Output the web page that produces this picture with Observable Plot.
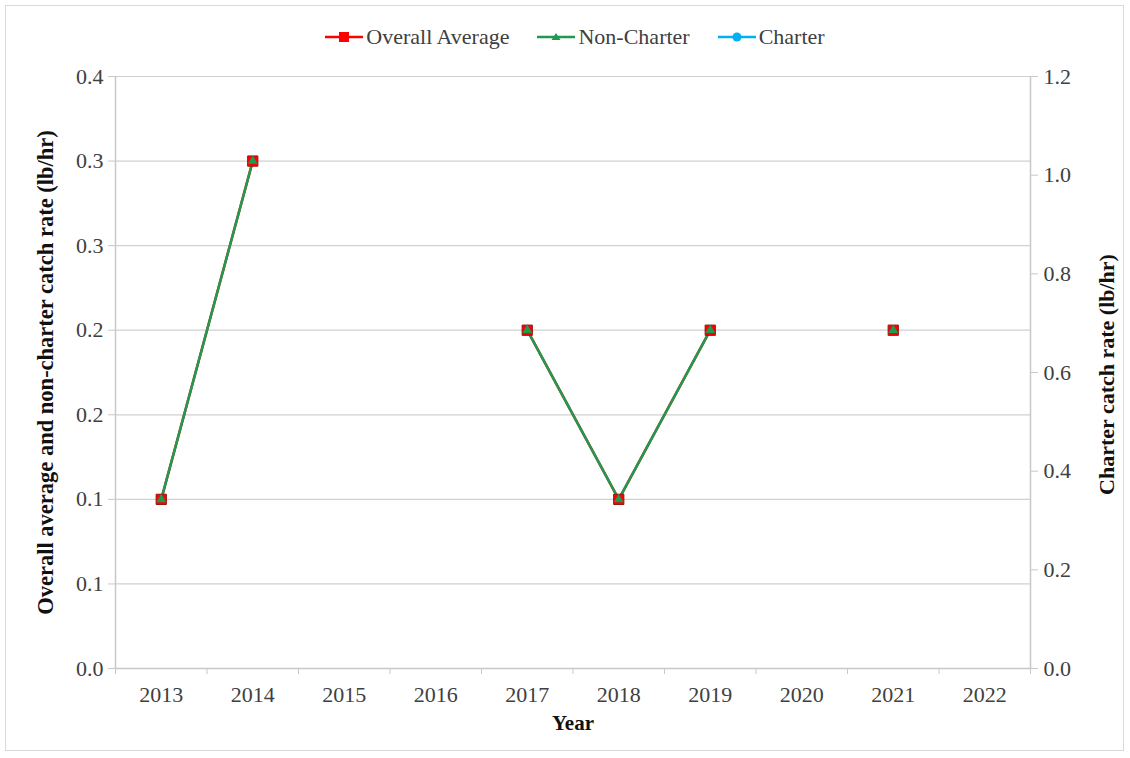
<!DOCTYPE html>
<html>
<head>
<meta charset="utf-8">
<script src="https://cdn.jsdelivr.net/npm/d3@7"></script>
<script src="https://cdn.jsdelivr.net/npm/@observablehq/plot@0.6"></script>
<style>
  html, body { margin: 0; padding: 0; background: #fff; }
  #wrap { position: relative; width: 1130px; height: 758px; font-family: "Liberation Serif", "Times New Roman", serif; }
  #border { position: absolute; left: 5px; top: 5px; width: 1119px; height: 746px; border: 1px solid #d9d9d9; box-sizing: border-box; }
  #legend { position: absolute; top: 24px; left: 0; width: 1150px; display: flex; justify-content: center; gap: 28px; font-size: 22px; line-height: 26px; color: #404040; }
  .item { display: flex; align-items: center; gap: 3px; }
  #chart { position: absolute; left: 0; top: 0; }
  #chart svg, #chart svg text { font-family: "Liberation Serif", "Times New Roman", serif !important; }
</style>
</head>
<body>
<div id="wrap">
  <div id="border"></div>
  <div id="chart"></div>
  <div id="legend"></div>
</div>
<script>
const years = [2013, 2014, 2015, 2016, 2017, 2018, 2019, 2020, 2021, 2022];
const overallAverage = [0.1, 0.3, null, null, 0.2, 0.1, 0.2, null, 0.2, null];
const nonCharter = [0.1, 0.3, null, null, 0.2, 0.1, 0.2, null, 0.2, null];
const charter = [null, null, null, null, null, null, null, null, null, null];

const leftTicks = [0, 0.05, 0.1, 0.15, 0.2, 0.25, 0.3, 0.35];
const leftTickLabels = ["0.0", "0.1", "0.1", "0.2", "0.2", "0.3", "0.3", "0.4"];
const rightTicks = [0, 0.2, 0.4, 0.6, 0.8, 1.0, 1.2];
const rightTickLabels = ["0.0", "0.2", "0.4", "0.6", "0.8", "1.0", "1.2"];

const leftMax = 0.35, rightMax = 1.2;
const seriesNames = ["Overall Average", "Non-Charter", "Charter"];
const seriesColors = ["#ff0000", "#1f9a50", "#00b0f0"];

const toRows = (vals, name) => years.map((yr, i) => ({year: yr, value: vals[i], series: name}));
const avgRows = toRows(overallAverage, seriesNames[0]);
const ncRows = toRows(nonCharter, seriesNames[1]);
const chRows = toRows(charter, seriesNames[2]).map(d => ({...d, value: d.value == null ? null : d.value * leftMax / rightMax}));

const boundaries = d3.range(years[0] - 0.5, years[years.length - 1] + 1, 1);
const rightScaled = rightTicks.map(v => v * leftMax / rightMax);

const chart = Plot.plot({
  width: 1130,
  height: 758,
  marginLeft: 115,
  marginRight: 100,
  marginTop: 76,
  marginBottom: 90,
  style: {fontSize: "22px", color: "#404040", background: "transparent"},
  x: {domain: [years[0] - 0.5, years[years.length - 1] + 0.5]},
  y: {domain: [0, leftMax]},
  marks: [
    Plot.gridY(leftTicks, {stroke: "#d0d0d0", strokeOpacity: 1, strokeWidth: 1.2}),
    Plot.ruleX([years[0] - 0.5], {stroke: "#c8c8c8", strokeWidth: 1.5}),
    Plot.ruleX([years[years.length - 1] + 0.5], {stroke: "#c8c8c8", strokeWidth: 1.5}),
    Plot.ruleY([0], {stroke: "#c8c8c8", strokeWidth: 1.5}),
    Plot.axisY(leftTicks, {anchor: "left", tickSize: 7, tickPadding: 5, fontSize: 22, stroke: "#c8c8c8", fill: "#404040", tickFormat: d => leftTickLabels[Math.round(d / 0.05)], label: null}),
    Plot.axisY(rightScaled, {anchor: "right", tickSize: 7, tickPadding: 6, fontSize: 22, stroke: "#c8c8c8", fill: "#404040", tickFormat: d => rightTickLabels[Math.round(d * rightMax / leftMax / 0.2)], label: null}),
    Plot.axisX(years, {anchor: "bottom", tickSize: 0, tickPadding: 18, fontSize: 22, fill: "#404040", tickFormat: d => String(d), label: null}),
    Plot.axisX(boundaries, {anchor: "bottom", tickSize: 6, stroke: "#c8c8c8", tickFormat: () => "", label: null}),
    Plot.line(avgRows, {x: "year", y: "value", stroke: seriesColors[0], strokeWidth: 2.5}),
    Plot.line(chRows, {x: "year", y: "value", stroke: seriesColors[2], strokeWidth: 2.5}),
    Plot.line(ncRows, {x: "year", y: "value", stroke: seriesColors[1], strokeWidth: 2.5}),
    Plot.dot(avgRows.filter(d => d.value != null), {x: "year", y: "value", symbol: "square", r: 5.8, fill: seriesColors[0], stroke: "#9a1515", strokeWidth: 1}),
    Plot.dot(chRows.filter(d => d.value != null), {x: "year", y: "value", symbol: "circle", r: 4.5, fill: seriesColors[2]}),
    Plot.dot(ncRows.filter(d => d.value != null), {x: "year", y: "value", symbol: "triangle", r: 3.6, fill: seriesColors[1]}),
    Plot.text(["Overall average and non-charter catch rate (lb/hr)"], {frameAnchor: "left", textAnchor: "middle", dx: -70, dy: 0, rotate: -90, fontWeight: "bold", fontSize: 22.5, fill: "#111"}),
    Plot.text(["Charter catch rate (lb/hr)"], {frameAnchor: "right", textAnchor: "middle", dx: 76, dy: 2, rotate: -90, fontWeight: "bold", fontSize: 22, fill: "#111"}),
    Plot.text(["Year"], {frameAnchor: "bottom", dy: 61, fontWeight: "bold", fontSize: 21, fill: "#111"})
  ]
});
document.getElementById("chart").appendChild(chart);

// legend
const symbols = ["square", "triangle", "circle"];
const legend = document.getElementById("legend");
seriesNames.forEach((name, i) => {
  const item = document.createElement("div");
  item.className = "item";
  const c = seriesColors[i];
  let shape;
  if (symbols[i] === "square") shape = `<rect x="14" y="6" width="10" height="10" fill="${c}"/>`;
  else if (symbols[i] === "triangle") shape = `<path d="M19,7 L23.5,14 L14.5,14 Z" fill="${c}"/>`;
  else shape = `<circle cx="19" cy="11" r="4.5" fill="${c}"/>`;
  item.innerHTML = `<svg width="38" height="22"><line x1="0" x2="38" y1="11" y2="11" stroke="${c}" stroke-width="2.5"/>${shape}</svg><span>${name}</span>`;
  legend.appendChild(item);
});
</script>
</body>
</html>
